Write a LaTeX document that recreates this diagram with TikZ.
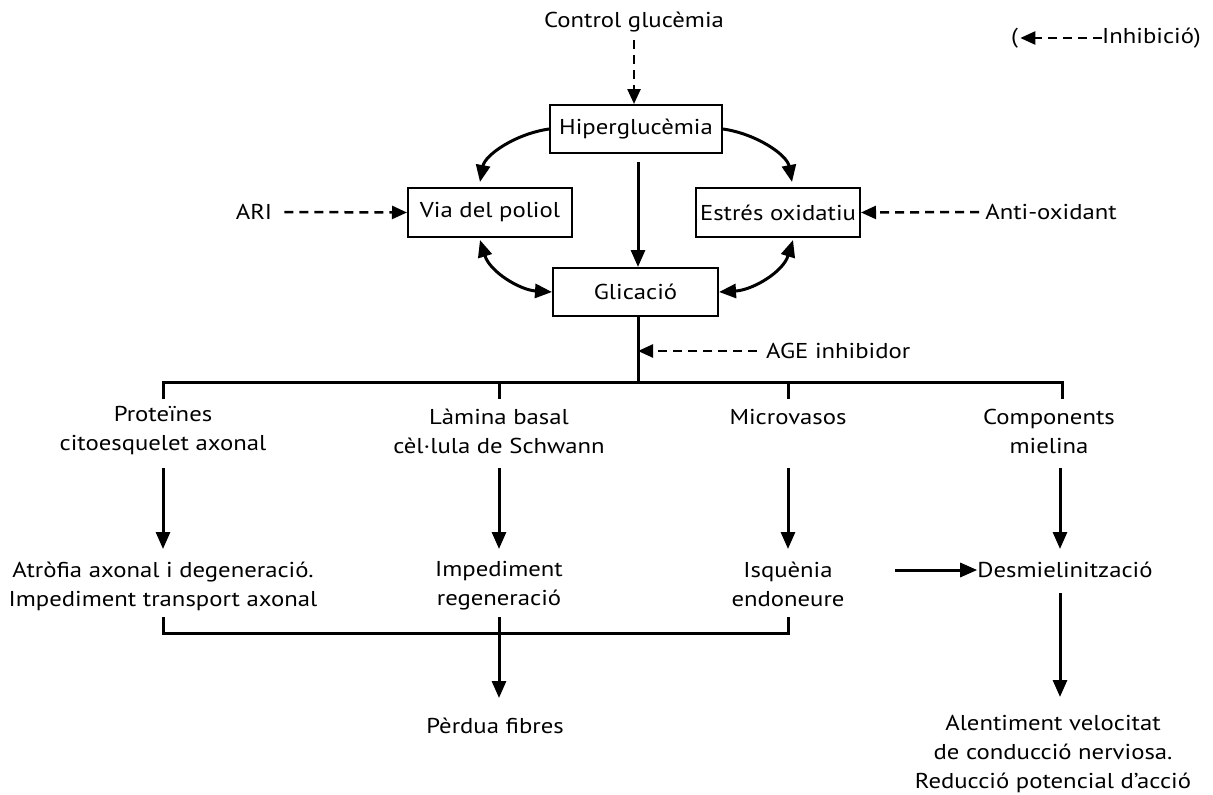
\documentclass[tikz,border=0pt]{standalone}
\usepackage{fontspec}
\setmainfont{PT Sans}[FakeStretch=1.15]
\usetikzlibrary{arrows.meta}
\begin{document}
\begin{tikzpicture}[x=1pt,y=-1pt,
  every node/.style={font=\fontsize{21.5}{29}\selectfont, inner sep=0pt, align=center},
  box/.style={draw, line width=2pt, minimum height=48pt},
  arr/.style={line width=3pt, -{Triangle[length=17pt,width=14pt]}},
  darr/.style={line width=3pt, {Triangle[length=17pt,width=14pt]}-{Triangle[length=17pt,width=14pt]}},
  inh/.style={line width=2.5pt, dash pattern=on 9pt off 6pt, -{Triangle[length=15pt,width=13pt]}},
  ln/.style={line width=3pt}]
\useasboundingbox (0,0) rectangle (1213,795);
% top
\node (ctrl) at (634,22) {Control glucèmia};
\node[box, minimum width=172pt] (hip) at (636,129) {Hiperglucèmia};
\node[box, minimum width=164pt, minimum height=49pt] (via) at (490,212.5) {Via del poliol};
\node[box, minimum width=164pt, minimum height=49pt] (est) at (778,212.5) {Estrés oxidatiu};
\node[box, minimum width=165pt] (gli) at (635.5,292) {Glicació};
\node (ari) at (254,212) {ARI};
\node (anti) at (1051,212) {Anti-oxidant};
\node[anchor=west] (age) at (766,351) {AGE inhibidor};
% legend
\node[anchor=west] (lpar) at (1011,38) {(};
\node[anchor=west] (linh) at (1102,38) {Inhibició)};
\draw[inh] (linh.west) -- ([xshift=2pt]lpar.east);
% columns
\node (prot) at (163,431) {Proteïnes\\citoesquelet axonal};
\node (lam) at (499,431) {Làmina basal\\cèl·lula de Schwann};
\node (micro) at (788,417) {Microvasos};
\node (comp) at (1049,431) {Components\\mielina};
\node (atro) at (163,586) {Atròfia axonal i degeneració.\\Impediment transport axonal};
\node (imp) at (499,586) {Impediment\\regeneració};
\node (isq) at (788,584) {Isquènia\\endoneure};
\node (desm) at (1065,570) {Desmielinització};
\node (perd) at (495,726) {Pèrdua fibres};
\node (alent) at (1053,754) {Alentiment velocitat\\de conducció nerviosa.\\Reducció potencial d’acció};
% coordinates
\coordinate (bus) at (638,382);
\coordinate (busL) at (163,382);
\coordinate (busR) at (1062,382);
\coordinate (brk) at (499,633);
\coordinate (c1t) at (163,468); \coordinate (c1b) at (163,549);
\coordinate (c2t) at (499,468); \coordinate (c2b) at (499,549);
\coordinate (c3t) at (788,468); \coordinate (c3b) at (788,549);
\coordinate (c4t) at (1060,468); \coordinate (c4b) at (1060,549);
\coordinate (c5t) at (1060,593); \coordinate (c5b) at (1060,697);
\coordinate (c6s) at (895,570);
\coordinate (bl) at (163,617); \coordinate (br) at (788,617);
\coordinate (c7t) at (499,617); \coordinate (c7b) at (499,698);
% dashed inhibitions
\draw[inh] ([yshift=-18pt]ctrl.center) -- (hip.north -| ctrl);
\draw[inh] (ari.east) ++(12,0) -- (via.west);
\draw[inh] ([xshift=-6pt]anti.west) -- (est.east);
\draw[inh] ([xshift=-9pt]age.west) -- (bus |- age);
% hiperglucemia arrows
\draw[arr] (hip.west) .. controls (515,134) and (485,155) .. (480,182);
\draw[arr] (hip.east) .. controls (757,134) and (787,155) .. (792,182);
\draw[arr] (hip.south -| bus) ++(0,8) -- (gli.north -| bus);
\draw[darr] (480,240) .. controls (490,272) and (520,290) .. (gli.west);
\draw[darr] (793,240) .. controls (783,272) and (753,290) .. (gli.east);
% bus
\draw[ln] (gli.south -| bus) -- (bus);
\draw[ln] ([yshift=-17pt]busL) -- (busL) -- (busR) -- ([yshift=-17pt]busR);
\draw[ln] (busL -| lam) -- ++(0,17);
\draw[ln] (busL -| micro) -- ++(0,17);
% column arrows
\draw[arr] (c1t) -- (c1b);
\draw[arr] (c2t) -- (c2b);
\draw[arr] (c3t) -- (c3b);
\draw[arr] (c4t) -- (c4b);
\draw[arr] (c5t) -- (c5b);
\draw[arr] (c6s) -- (desm.west);
% bracket
\draw[ln] (bl) -- (brk -| bl) -- (brk -| br) -- (br);
\draw[arr] (c7t) -- (c7b);
\end{tikzpicture}
\end{document}
